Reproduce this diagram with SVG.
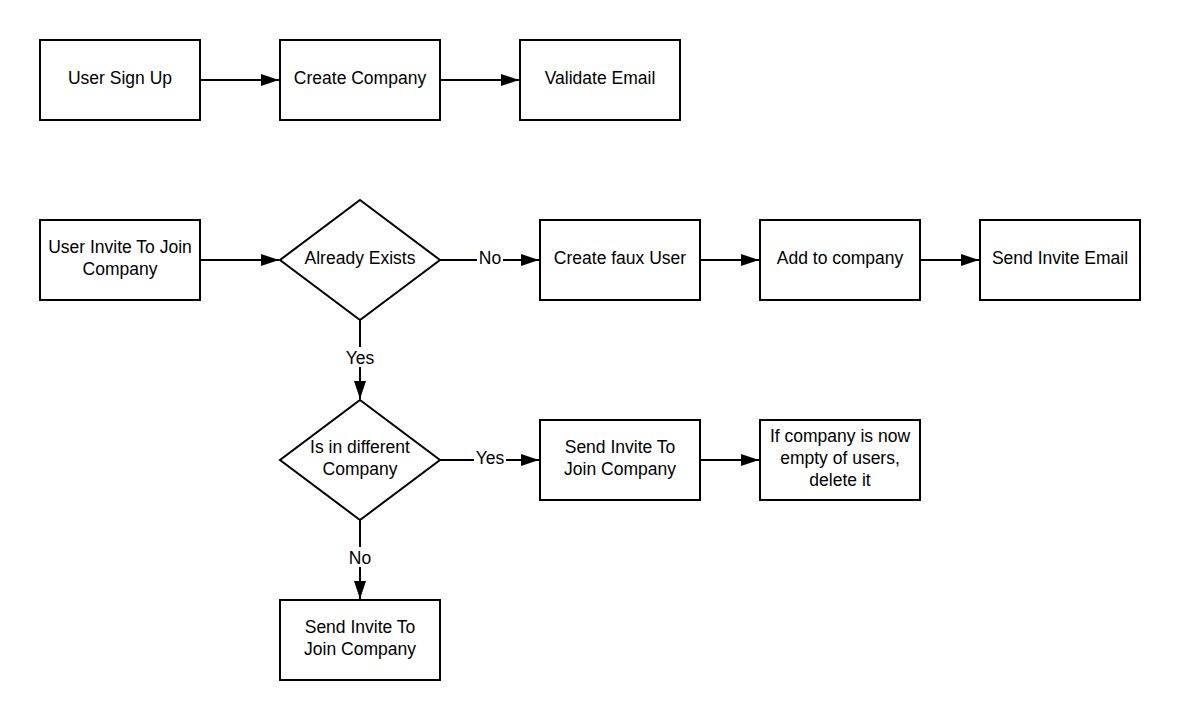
<svg xmlns="http://www.w3.org/2000/svg" width="1180" height="720" viewBox="0 0 1180 720">
<style>
.n{fill:#fff;stroke:#000;stroke-width:2}
.t{font-family:"Liberation Sans",Arial,sans-serif;font-size:17.5px;fill:#000;text-anchor:middle}
.c{stroke:#000;stroke-width:2;fill:none;marker-end:url(#a)}
.lb{fill:#fff}
</style>
<defs>
<marker id="a" markerWidth="18" markerHeight="12" refX="18" refY="6" orient="auto" markerUnits="userSpaceOnUse">
<path d="M0,0 L18,6 L0,12 Z" fill="#000"/>
</marker>
</defs>
<rect width="1180" height="720" fill="#fff"/>
<g id="connectors">
<line class="c" x1="200" y1="80" x2="279" y2="80"/>
<line class="c" x1="440" y1="80" x2="519" y2="80"/>
<line class="c" x1="200" y1="260" x2="279" y2="260"/>
<line class="c" x1="440" y1="260" x2="539" y2="260"/>
<line class="c" x1="700" y1="260" x2="759" y2="260"/>
<line class="c" x1="920" y1="260" x2="979" y2="260"/>
<line class="c" x1="360" y1="320" x2="360" y2="399"/>
<line class="c" x1="440" y1="460" x2="539" y2="460"/>
<line class="c" x1="700" y1="460" x2="759" y2="460"/>
<line class="c" x1="360" y1="520" x2="360" y2="599"/>
<rect class="lb" x="477" y="248" width="26" height="20"/>
<text class="t" x="490" y="264">No</text>
<rect class="lb" x="344" y="347" width="32" height="20"/>
<text class="t" x="360" y="364">Yes</text>
<rect class="lb" x="474" y="448" width="32" height="20"/>
<text class="t" x="490" y="464">Yes</text>
<rect class="lb" x="347" y="547" width="26" height="20"/>
<text class="t" x="360" y="564">No</text>
</g>
<g id="n1"><rect class="n" x="40" y="40" width="160" height="80"/><text class="t" x="120" y="84">User Sign Up</text></g>
<g id="n2"><rect class="n" x="280" y="40" width="160" height="80"/><text class="t" x="360" y="84">Create Company</text></g>
<g id="n3"><rect class="n" x="520" y="40" width="160" height="80"/><text class="t" x="600" y="84">Validate Email</text></g>
<g id="n4"><rect class="n" x="40" y="220" width="160" height="80"/><text class="t" x="120" y="253">User Invite To Join</text><text class="t" x="120" y="275">Company</text></g>
<g id="n5"><path class="n" d="M360,200 L440,260 L360,320 L280,260 Z"/><text class="t" x="360" y="264">Already Exists</text></g>
<g id="n6"><rect class="n" x="540" y="220" width="160" height="80"/><text class="t" x="620" y="264">Create faux User</text></g>
<g id="n7"><rect class="n" x="760" y="220" width="160" height="80"/><text class="t" x="840" y="264">Add to company</text></g>
<g id="n8"><rect class="n" x="980" y="220" width="160" height="80"/><text class="t" x="1060" y="264">Send Invite Email</text></g>
<g id="n9"><path class="n" d="M360,400 L440,460 L360,520 L280,460 Z"/><text class="t" x="360" y="453">Is in different</text><text class="t" x="360" y="475">Company</text></g>
<g id="n10"><rect class="n" x="540" y="420" width="160" height="80"/><text class="t" x="620" y="453">Send Invite To</text><text class="t" x="620" y="475">Join Company</text></g>
<g id="n11"><rect class="n" x="760" y="420" width="160" height="80"/><text class="t" x="840" y="442">If company is now</text><text class="t" x="840" y="464">empty of users,</text><text class="t" x="840" y="486">delete it</text></g>
<g id="n12"><rect class="n" x="280" y="600" width="160" height="80"/><text class="t" x="360" y="633">Send Invite To</text><text class="t" x="360" y="655">Join Company</text></g>
</svg>
